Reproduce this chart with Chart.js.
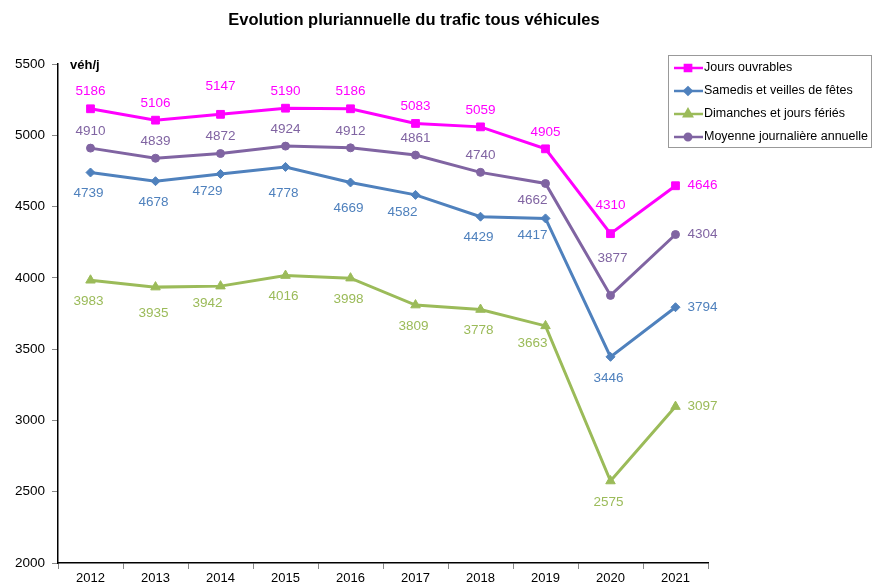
<!DOCTYPE html>
<html>
<head>
<meta charset="utf-8">
<script src="https://cdn.jsdelivr.net/npm/chart.js@4/dist/chart.umd.min.js"></script>
<style>
  body { margin: 0; background: #fff; }
  #wrap { width: 874px; height: 586px; }
</style>
</head>
<body>
<div id="wrap"><canvas id="chart" width="874" height="586"></canvas></div>
<script>
const years = ['2012', '2013', '2014', '2015', '2016', '2017', '2018', '2019', '2020', '2021'];
const joursOuvrables = [5186, 5106, 5147, 5190, 5186, 5083, 5059, 4905, 4310, 4646];
const samedis = [4739, 4678, 4729, 4778, 4669, 4582, 4429, 4417, 3446, 3794];
const dimanches = [3983, 3935, 3942, 4016, 3998, 3809, 3778, 3663, 2575, 3097];
const moyenne = [4910, 4839, 4872, 4924, 4912, 4861, 4740, 4662, 3877, 4304];
const yTicks = [2000, 2500, 3000, 3500, 4000, 4500, 5000, 5500];

// where each value label sits: a = above, b = below, r = right, bl = below-left
// a2/a3/b2 = further away from the point
const posJours = ['a', 'a', 'a2', 'a', 'a', 'a', 'a', 'a', 'a2', 'r'];
const posSamedis = ['b', 'b', 'bl', 'b2', 'b2', 'bl', 'b', 'bl', 'b', 'r'];
const posDimanches = ['b', 'b2', 'bl', 'b', 'b', 'b', 'b', 'bl', 'b', 'r'];
const posMoyenne = ['a', 'a', 'a', 'a', 'a', 'a', 'a', 'bl', 'a3', 'r'];

const offsets = {
    a: [0, -17], a2: [0, -28], a3: [2, -37],
    b: [-2, 21], b2: [-2, 26], bl: [-13, 17],
    r: [12, 0]
};

const font = 'Arial, "Liberation Sans", sans-serif';

function series(label, data, color, style, radius, pos) {
    return {
        label: label,
        data: data,
        borderColor: color,
        backgroundColor: color,
        pointStyle: style,
        pointRadius: radius,
        pointHoverRadius: radius,
        pointBorderWidth: 1,
        borderWidth: 3,
        tension: 0,
        labelPos: pos
    };
}

const valueLabels = {
    id: 'valueLabels',
    afterDatasetsDraw(chart) {
        const ctx = chart.ctx;
        ctx.save();
        ctx.font = '13.5px ' + font;
        ctx.textBaseline = 'middle';
        chart.data.datasets.forEach((ds, i) => {
            const meta = chart.getDatasetMeta(i);
            meta.data.forEach((pt, j) => {
                const p = ds.labelPos[j];
                const off = offsets[p];
                ctx.textAlign = p === 'r' ? 'left' : 'center';
                ctx.fillStyle = ds.borderColor;
                ctx.fillText(String(ds.data[j]), pt.x + off[0], pt.y + off[1]);
            });
        });
        ctx.restore();
    }
};

const extras = {
    id: 'extras',
    afterDraw(chart) {
        const ctx = chart.ctx;
        ctx.save();
        // title
        ctx.fillStyle = '#000';
        ctx.font = 'bold 16.5px ' + font;
        ctx.textAlign = 'center';
        ctx.textBaseline = 'middle';
        ctx.fillText('Evolution pluriannuelle du trafic tous véhicules', 414, 20);
        // unit
        ctx.font = 'bold 13px ' + font;
        ctx.textAlign = 'left';
        ctx.fillText('véh/j', 70, 65);
        // legend box
        ctx.fillStyle = '#fff';
        ctx.fillRect(668, 55, 204, 93);
        ctx.strokeStyle = '#999';
        ctx.lineWidth = 1;
        ctx.strokeRect(668.5, 55.5, 203, 92);
        ctx.font = '12.5px ' + font;
        chart.data.datasets.forEach((ds, i) => {
            const y = 68 + i * 23;
            ctx.strokeStyle = ds.borderColor;
            ctx.lineWidth = 2.5;
            ctx.beginPath();
            ctx.moveTo(674, y);
            ctx.lineTo(703, y);
            ctx.stroke();
            ctx.fillStyle = ds.borderColor;
            Chart.helpers.drawPoint(ctx, {
                pointStyle: ds.pointStyle,
                radius: ds.pointRadius * 0.8,
                borderWidth: 1
            }, 688, y);
            ctx.fillStyle = '#000';
            ctx.fillText(ds.label, 704, y);
        });
        ctx.restore();
    }
};

new Chart(document.querySelector('#chart').getContext('2d'), {
    type: 'line',
    data: {
        labels: years,
        datasets: [
            series('Jours ouvrables', joursOuvrables, '#ff00ff', 'rect', 5.5, posJours),
            series('Samedis et veilles de fêtes', samedis, '#4f81bd', 'rectRot', 4.5, posSamedis),
            series('Dimanches et jours fériés', dimanches, '#9bbb59', 'triangle', 5.5, posDimanches),
            series('Moyenne journalière annuelle', moyenne, '#8064a2', 'circle', 4, posMoyenne)
        ]
    },
    options: {
        responsive: false,
        animation: false,
        layout: { padding: { top: 64, right: 166, bottom: 0, left: 0 } },
        plugins: {
            legend: { display: false },
            title: { display: false },
            tooltip: { enabled: false }
        },
        scales: {
            x: {
                offset: true,
                grid: { offset: true, drawOnChartArea: false, drawTicks: true, tickLength: 6, color: '#888' },
                border: { color: '#000', width: 1.5 },
                ticks: { color: '#000', font: { family: font, size: 13 }, padding: 2 },
                afterFit(scale) { scale.height = 23; }
            },
            y: {
                min: 2000,
                max: 5500,
                afterBuildTicks(scale) { scale.ticks = yTicks.map(v => ({ value: v })); },
                grid: { drawOnChartArea: false, drawTicks: true, tickLength: 6, color: '#888' },
                border: { color: '#000', width: 1.5 },
                ticks: {
                    color: '#000',
                    font: { family: font, size: 13.5 },
                    padding: 7,
                    callback: v => String(v)
                },
                afterFit(scale) { scale.width = 58; }
            }
        }
    },
    plugins: [valueLabels, extras]
});
</script>
</body>
</html>
